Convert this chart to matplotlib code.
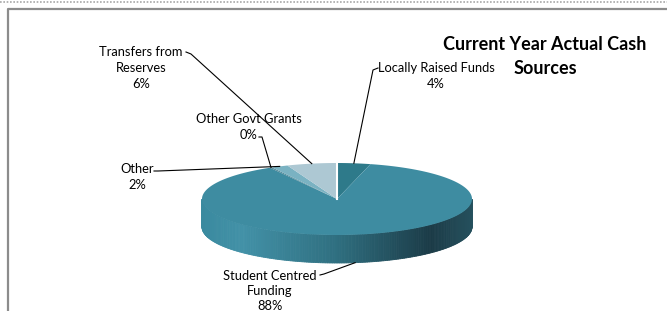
import numpy as np
import matplotlib.pyplot as plt
from matplotlib.patches import Polygon
from matplotlib.colors import LinearSegmentedColormap

# slices, clockwise from 12 o'clock
labels = ["Locally Raised Funds", "Student Centred\nFunding", "Other Govt Grants",
          "Other", "Transfers from\nReserves"]
values = [4.0, 88.0, 0.3, 2.0, 6.0]
pct_text = ["4%", "88%", "0%", "2%", "6%"]
colors = ["#2E7A8A", "#3E8CA1", "#4E8797", "#7AB2C2", "#ADC8D3"]
title_lines = ["Current Year Actual Cash", "Sources"]

# label text position and leader elbow (pixels)
label_pos = [(436, 76), (270, 291), (249, 127), (137, 177), (141, 68)]
label_elbow = [(373, 70), (324, 274), (262, 137), (158, 171), (191, 54)]
label_start = [(378, 68), (320, 275), (259, 137), (154, 171), (186, 52)]
on_bottom = [False, True, False, False, False]

CX, CY, A, B, DEPTH = 337, 199, 135, 36, 28

fig = plt.figure(figsize=(6.67, 3.11), dpi=100)
ax = fig.add_axes([0, 0, 1, 1])
ax.set_xlim(0, 667)
ax.set_ylim(311, 0)
ax.axis("off")

# frame
ax.plot([0, 667], [1.5, 1.5], color="#a8a8a8", lw=1.2, ls=(0, (1, 1)))
ax.plot([7.5, 7.5, 667], [311, 9, 9], color="#8c8c8c", lw=1.6)


def rim(t):
    r = np.radians(t)
    return CX + A * np.cos(r), CY - B * np.sin(r)


# side wall (front half) with gradient
wall = LinearSegmentedColormap.from_list(
    "wall", [(0, "#3A8A9F"), (0.15, "#4291A7"), (0.5, "#2F6F80"),
             (0.85, "#1B3B47"), (1, "#25505D")])
ts = np.linspace(180, 360, 181)
for t0, t1 in zip(ts[:-1], ts[1:]):
    x0, y0 = rim(t0)
    x1, y1 = rim(t1)
    u = ((x0 + x1) / 2 - (CX - A)) / (2 * A)
    ax.add_patch(Polygon([(x0, y0), (x1, y1), (x1, y1 + DEPTH), (x0, y0 + DEPTH)],
                         closed=True, fc=wall(u), ec=wall(u), lw=0.6))

# top faces
total = sum(values)
start = 90.0
mids = []
for v, c in zip(values, colors):
    end = start - v / total * 360
    tt = np.linspace(start, end, max(int(abs(start - end)) * 2, 4))
    pts = [(CX, CY)] + [rim(t) for t in tt]
    ax.add_patch(Polygon(pts, closed=True, fc=c, ec="none"))
    mids.append((start + end) / 2)
    start = end

# white separator at the top of the pie
ax.plot([CX, CX], [CY, CY - B], color="white", lw=1.5)

# labels and leaders
for lab, pct, pos, elb, st, m, bot in zip(labels, pct_text, label_pos, label_elbow,
                                          label_start, mids, on_bottom):
    ax.text(pos[0], pos[1], lab + "\n" + pct, ha="center", va="center",
            fontsize=9.3, family="Lato", linespacing=1.35)
    px, py = rim(m)
    if bot:
        py += DEPTH
    ax.plot([st[0], elb[0], px], [st[1], elb[1], py], color="black", lw=0.8)

for line, y in zip(title_lines, [44, 68]):
    ax.text(545, y, line, ha="center", va="center",
            fontsize=13, fontweight="bold", family="Lato")

fig.savefig("out.png", dpi=100)
